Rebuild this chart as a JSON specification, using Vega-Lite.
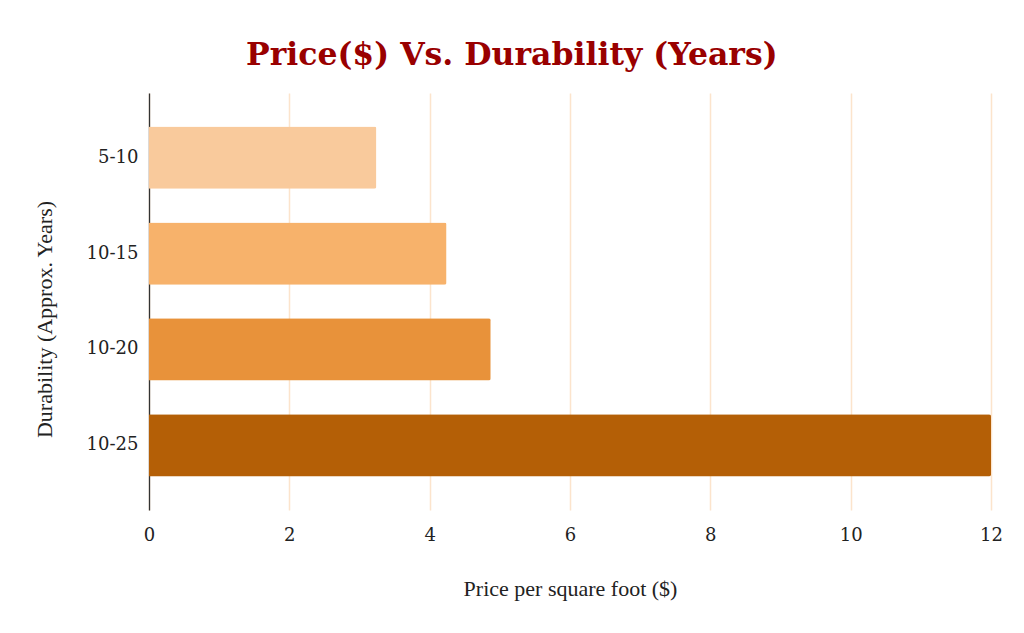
{
  "$schema": "https://vega.github.io/schema/vega-lite/v6.json",
  "autosize": "none",
  "padding": {"left": 149, "top": 93, "right": 33, "bottom": 123},
  "width": 842,
  "height": 417,
  "background": "white",
  "title": {
    "text": "Price($) Vs. Durability (Years)",
    "font": "DejaVu Serif",
    "fontSize": 31.5,
    "fontWeight": "bold",
    "color": "#990000",
    "anchor": "middle",
    "frame": "bounds",
    "offset": 22,
    "dx": -6
  },
  "data": {
    "values": [
      {"durability": "5-10", "price": 3.24},
      {"durability": "10-15", "price": 4.24},
      {"durability": "10-20", "price": 4.87},
      {"durability": "10-25", "price": 12}
    ]
  },
  "mark": {"type": "bar", "cornerRadiusEnd": 2},
  "encoding": {
    "y": {
      "field": "durability",
      "type": "nominal",
      "sort": ["5-10", "10-15", "10-20", "10-25"],
      "scale": {"paddingInner": 0.35, "paddingOuter": 0.35},
      "axis": {
        "title": "Durability (Approx. Years)",
        "titleFont": "Liberation Serif",
        "titleFontSize": 22,
        "titleFontWeight": "normal",
        "titleColor": "#222222",
        "titlePadding": 30,
        "titleY": 226,
        "labelFont": "DejaVu Serif",
        "labelFontSize": 18,
        "labelColor": "#222222",
        "labelPadding": 11,
        "ticks": false,
        "domainColor": "#333333",
        "domainWidth": 1.3
      }
    },
    "x": {
      "field": "price",
      "type": "quantitative",
      "scale": {"domain": [0, 12], "nice": false},
      "axis": {
        "title": "Price per square foot ($)",
        "titleFont": "Liberation Serif",
        "titleFontSize": 22,
        "titleFontWeight": "normal",
        "titleColor": "#222222",
        "titlePadding": 34,
        "labelFont": "DejaVu Serif",
        "labelFontSize": 18,
        "labelColor": "#222222",
        "labelPadding": 16,
        "labelFlush": false,
        "values": [0, 2, 4, 6, 8, 10, 12],
        "ticks": false,
        "domain": false,
        "grid": true,
        "gridColor": "#FCE4CC",
        "gridWidth": 1.5
      }
    },
    "color": {
      "field": "durability",
      "type": "nominal",
      "scale": {
        "domain": ["5-10", "10-15", "10-20", "10-25"],
        "range": ["#F9CA9C", "#F7B26B", "#E8923A", "#B45F06"]
      },
      "legend": null
    }
  },
  "config": {"view": {"stroke": null}}
}
